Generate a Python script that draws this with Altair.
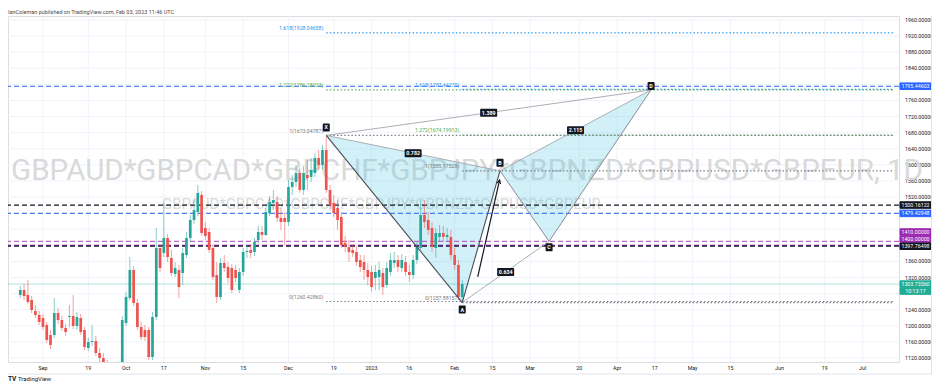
import altair as alt
import numpy as np
import pandas as pd

# ---------------- data ----------------
bar_idx = list(range(-6, 112))  # trading-day index, 0 = 1 Sep 2022, 111 = 3 Feb 2023

open_ = [1276.6, 1289.1, 1276.6, 1264.2, 1236.9, 1226.9, 1219.5, 1202.1, 1177.2, 1177.2,
         1231.9, 1214.5, 1194.6, 1222.0, 1224.5, 1199.6, 1219.5, 1189.7, 1144.9, 1159.8,
         1162.3, 1132.5, 1120.0, 1110.1, 1080.0, 1092.0, 1098.0, 1105.1, 1207.0, 1269.2,
         1338.7, 1256.7, 1197.1, 1189.7, 1189.7, 1122.5, 1222.0, 1393.4, 1381.0, 1418.3,
         1368.6, 1328.8, 1338.7, 1331.3, 1376.0, 1418.3, 1463.0, 1482.9, 1525.2, 1443.1,
         1433.2, 1393.4, 1326.3, 1271.7, 1356.1, 1346.2, 1343.7, 1338.7, 1289.1, 1333.8,
         1383.5, 1388.5, 1383.5, 1413.3, 1433.2, 1425.7, 1480.4, 1505.2, 1507.7, 1468.0,
         1468.0, 1458.0, 1545.0, 1557.4, 1579.8, 1537.6, 1574.8, 1569.9, 1579.8, 1617.1,
         1599.7, 1637.0, 1537.6, 1505.2, 1492.8, 1470.5, 1405.9, 1395.9, 1388.5, 1383.5,
         1363.6, 1358.6, 1338.7, 1333.8, 1318.9, 1321.4, 1331.3, 1301.5, 1333.8, 1356.1,
         1363.6, 1343.7, 1358.6, 1333.8, 1326.3, 1363.6, 1393.4, 1475.4, 1463.0, 1443.1,
         1393.4, 1420.8, 1430.7, 1420.8, 1420.8, 1376.0, 1351.2, 1271.7]
high_ = [1299.0, 1304.0, 1313.9, 1274.1, 1251.8, 1236.9, 1229.4, 1209.5, 1189.7, 1269.2,
         1244.3, 1224.5, 1204.6, 1251.8, 1276.6, 1234.4, 1229.4, 1197.1, 1169.8, 1202.1,
         1174.7, 1144.9, 1132.5, 1115.0, 1100.0, 1108.0, 1112.0, 1224.5, 1284.1, 1371.0,
         1348.7, 1266.7, 1209.5, 1202.1, 1197.1, 1234.4, 1443.1, 1403.4, 1505.2, 1428.2,
         1388.5, 1358.6, 1351.2, 1393.4, 1433.2, 1475.4, 1512.7, 1550.0, 1535.0, 1458.0,
         1443.1, 1403.4, 1358.6, 1368.6, 1376.0, 1358.6, 1353.6, 1351.2, 1343.7, 1393.4,
         1400.9, 1403.4, 1418.3, 1448.1, 1448.1, 1492.8, 1522.6, 1537.6, 1522.6, 1492.8,
         1482.9, 1562.4, 1574.8, 1599.7, 1592.3, 1597.2, 1612.1, 1617.1, 1629.5, 1637.0,
         1649.4, 1673.05, 1550.0, 1525.2, 1512.7, 1482.9, 1423.3, 1413.3, 1403.4, 1398.4,
         1376.0, 1376.0, 1356.1, 1348.7, 1351.2, 1358.6, 1343.7, 1358.6, 1381.0, 1383.5,
         1376.0, 1378.5, 1373.5, 1351.2, 1376.0, 1408.3, 1512.7, 1512.7, 1482.9, 1458.0,
         1443.1, 1450.6, 1448.1, 1443.1, 1438.2, 1393.4, 1363.6, 1313.9]
low_ = [1269.2, 1264.2, 1254.3, 1231.9, 1219.5, 1202.1, 1189.7, 1157.3, 1142.4, 1169.8,
        1204.6, 1187.2, 1174.7, 1197.1, 1192.1, 1189.7, 1177.2, 1139.9, 1137.4, 1149.9,
        1125.0, 1110.1, 1100.2, 1050.0, 1068.0, 1082.0, 1090.0, 1095.2, 1199.6, 1264.2,
        1249.3, 1189.7, 1164.8, 1162.3, 1115.1, 1115.1, 1214.5, 1333.8, 1371.0, 1358.6,
        1323.8, 1321.4, 1269.2, 1301.5, 1368.6, 1408.3, 1453.1, 1472.9, 1423.3, 1413.3,
        1381.0, 1313.9, 1256.7, 1264.2, 1333.8, 1306.5, 1281.6, 1308.9, 1281.6, 1323.8,
        1368.6, 1368.6, 1373.5, 1403.4, 1413.3, 1423.3, 1472.9, 1487.9, 1458.0, 1438.2,
        1400.9, 1448.1, 1525.2, 1545.0, 1530.1, 1525.2, 1537.6, 1557.4, 1569.9, 1587.3,
        1587.3, 1530.1, 1487.9, 1470.5, 1438.2, 1393.4, 1383.5, 1358.6, 1371.0, 1348.7,
        1333.8, 1313.9, 1301.5, 1284.1, 1289.1, 1289.1, 1276.6, 1294.0, 1323.8, 1343.7,
        1333.8, 1333.8, 1323.8, 1308.9, 1316.4, 1353.6, 1388.5, 1443.1, 1425.7, 1383.5,
        1368.6, 1408.3, 1408.3, 1408.3, 1363.6, 1338.7, 1264.2, 1257.88]
close_ = [1289.1, 1274.1, 1259.2, 1239.4, 1226.9, 1209.5, 1197.1, 1164.8, 1152.4, 1231.9,
          1214.5, 1194.6, 1184.7, 1224.5, 1199.6, 1222.0, 1184.7, 1147.4, 1159.8, 1162.3,
          1132.5, 1120.0, 1110.1, 1080.0, 1092.0, 1098.0, 1105.1, 1214.5, 1271.7, 1338.7,
          1256.7, 1197.1, 1172.3, 1172.3, 1122.5, 1222.0, 1393.4, 1343.7, 1418.3, 1371.0,
          1331.3, 1343.7, 1296.5, 1381.0, 1418.3, 1463.0, 1487.9, 1530.1, 1430.7, 1423.3,
          1388.5, 1321.4, 1271.7, 1356.1, 1343.7, 1318.9, 1289.1, 1318.9, 1333.8, 1383.5,
          1386.0, 1381.0, 1408.3, 1433.2, 1425.7, 1482.9, 1507.7, 1512.7, 1468.0, 1458.0,
          1458.0, 1545.0, 1557.4, 1579.8, 1537.6, 1579.8, 1567.4, 1587.3, 1617.1, 1599.7,
          1637.0, 1537.6, 1500.3, 1480.4, 1463.0, 1400.9, 1395.9, 1383.5, 1381.0, 1358.6,
          1346.2, 1338.7, 1321.4, 1296.5, 1333.8, 1338.7, 1296.5, 1343.7, 1363.6, 1363.6,
          1346.2, 1363.6, 1333.8, 1326.3, 1363.6, 1395.9, 1475.4, 1458.0, 1438.2, 1395.9,
          1430.7, 1430.7, 1420.8, 1425.7, 1376.0, 1351.2, 1271.7, 1303.74]

xtick_idx = [0, 12, 22, 32, 43, 53, 65, 77, 87, 97, 109, 119, 129, 142, 152, 162, 172, 182, 195, 207, 217]
xtick_lbl = ["Sep", "19", "Oct", "17", "Nov", "15", "Dec", "19", "2023", "16", "Feb",
             "15", "Mar", "20", "Apr", "17", "May", "15", "Jun", "19", "Jul"]
ytick_vals = [1120, 1160, 1200, 1240, 1320, 1360, 1520, 1560, 1600, 1640, 1680, 1720,
              1760, 1840, 1880, 1920, 1960]
grid_prices = [1120, 1160, 1200, 1240, 1280, 1320, 1360, 1400, 1440, 1480, 1520, 1560,
               1600, 1640, 1680, 1720, 1760, 1800, 1840, 1880, 1920, 1960]

level_price = [1795.44603, 1500.16122, 1479.42948, 1410.0, 1400.0, 1397.76498]
level_text = ["1795.44603", "1500.16122", "1479.42948", "1410.00000", "1400.00000", "1397.76498"]
level_kind = ["blue", "black", "blue2", "purple", "purple2", "black"]
last_price = 1303.7356
last_text = "1303.73560"
countdown = "10:13:17"

pt_name = ["X", "A", "B", "C", "D"]
pt_idx = [75, 111, 121, 134, 161]
pt_price = [1673.04787, 1257.88157, 1585.17528, 1410.0, 1786.28]

ratio_text = ["0.782", "0.634", "2.115", "1.389"]
ratio_from = ["X", "A", "B", "X"]
ratio_to = ["B", "C", "D", "D"]

fib_text = ["1.618(1928.04658)", "1.272(1786.28033)", "1(1673.04787)", "0(1260.42860)",
            "1.618(1787.44275)", "1.272(1674.19913)", "1(1585.17528)", "0(1257.88157)"]
fib_price = [1928.04658, 1786.28033, 1673.04787, 1260.42860,
             1787.44275, 1674.19913, 1585.17528, 1257.88157]
fib_from = ["X", "X", "X", "X", "A", "A", "A", "A"]
fib_kind = ["1.618", "1.272", "1", "0", "1.618", "1.272", "1", "0"]

arrow_idx = [115.1, 120.9]
arrow_price = [1321.4, 1562.4]

header = "IanColeman published on TradingView.com, Feb 03, 2023 11:46 UTC"
wm_big = "GBPAUD*GBPCAD*GBPCHF*GBPJPY*GBPNZD*GBPUSD*GBPEUR, 1D"
wm_small = "GBPAUD*GBPCAD*GBPCHF*GBPJPY*GBPNZD*GBPUSD*GBPEUR"

# ---------------- layout / style ----------------
W, H = 891, 346
X_DOM = [-7.932, 225.314]
Y_DOM = [1110.1, 1969.9]
FONT = "Roboto"
UP, DN = "#26a69a", "#ef5350"
xs = alt.Scale(domain=X_DOM, nice=False, zero=False)
ys = alt.Scale(domain=Y_DOM, nice=False, zero=False)


def X(f):
    return alt.X(f, scale=xs, axis=None)


def Y(f):
    return alt.Y(f, scale=ys, axis=None)


layers = []

# grid
layers.append(alt.Chart(pd.DataFrame({"p": grid_prices})).mark_rule(
    color="#f0f3fa", strokeWidth=1).encode(y=Y("p:Q")))
layers.append(alt.Chart(pd.DataFrame({"i": xtick_idx})).mark_rule(
    color="#f0f3fa", strokeWidth=1).encode(x=X("i:Q")))

# tick labels (price on the right, dates below)
layers.append(alt.Chart(pd.DataFrame({"v": ytick_vals})).mark_text(
    fontSize=5.3, font=FONT, color="#131722", align="left", baseline="middle").encode(
    x=alt.value(W + 6), y=Y("v:Q"), text=alt.Text("v:Q", format=".5f")))
layers.append(alt.Chart(pd.DataFrame({"i": xtick_idx, "t": xtick_lbl})).mark_text(
    fontSize=5.3, font=FONT, color="#131722", align="center", baseline="middle").encode(
    x=X("i:Q"), y=alt.value(H + 6), text="t:N"))

# watermarks
layers.append(alt.Chart(pd.DataFrame({"t": [wm_big]})).mark_text(
    fontSize=29.5, font=FONT, color="#d9d9d9", align="center", baseline="alphabetic").encode(
    x=alt.value(459), y=alt.value(164), text="t:N"))
layers.append(alt.Chart(pd.DataFrame({"t": [wm_small]})).mark_text(
    fontSize=15, font=FONT, color="#d9d9d9", align="left", baseline="alphabetic").encode(
    x=alt.value(154), y=alt.value(193), text="t:N"))

# pattern fill (two triangles XAB, BCD)
P = {n: (i, p) for n, i, p in zip(pt_name, pt_idx, pt_price)}
rows = []
for a, b, c in [("X", "A", "B"), ("B", "C", "D")]:
    (ia, pa), (ib, pb), (ic, pc) = P[a], P[b], P[c]
    mid_hi = float(np.interp(ib, [ia, ic], [pa, pc]))
    lo_b, hi_b = min(pb, mid_hi), max(pb, mid_hi)
    rows += [dict(tri=a + b + c, i=ia, lo=pa, hi=pa), dict(tri=a + b + c, i=ib, lo=lo_b, hi=hi_b),
             dict(tri=a + b + c, i=ic, lo=pc, hi=pc)]
tdf = pd.DataFrame(rows)
layers.append(alt.Chart(tdf).mark_area(color="#57c7e3", opacity=0.27).encode(
    x=X("i:Q"), y=Y("lo:Q"), y2="hi:Q", detail="tri:N"))

# horizontal levels
LSTYLE = {"blue": ("#2962ff", [5, 3], 1.1), "black": ("#131722", [5, 3], 1.2),
          "blue2": ("#4f7cf7", [5, 3], 1.1), "purple": ("#ba68c8", [5, 3], 1.2),
          "purple2": ("#7b1fa2", [5, 3], 1.2)}
for p, k in zip(level_price, level_kind):
    col, dash, sw = LSTYLE[k]
    layers.append(alt.Chart(pd.DataFrame({"p": [p]})).mark_rule(
        color=col, strokeDash=dash, strokeWidth=sw).encode(y=Y("p:Q")))
layers.append(alt.Chart(pd.DataFrame({"p": [last_price]})).mark_rule(
    color="#22ab94", opacity=0.35, strokeWidth=1).encode(y=Y("p:Q")))

# fib dotted lines + labels (one layer per colour)
FCOL = {"1.618": "#2196f3", "1.272": "#4caf50", "1": "#787b86", "0": "#787b86"}
fdf = pd.DataFrame(dict(t=fib_text, p=fib_price, k=fib_kind,
                        x1=[P[f][0] for f in fib_from], x2=[X_DOM[1]] * len(fib_text)))
for k, col in FCOL.items():
    sub = fdf[fdf["k"] == k]
    layers.append(alt.Chart(sub).mark_rule(strokeDash=[1.4, 2.2], strokeWidth=1.2, color=col).encode(
        x=X("x1:Q"), x2="x2:Q", y=Y("p:Q")))
    layers.append(alt.Chart(sub).mark_text(align="right", baseline="alphabetic", dx=-3, dy=-2.5,
                                           fontSize=5.2, font=FONT, color=col).encode(
        x=X("x1:Q"), y=Y("p:Q"), text="t:N"))

# candles (separate up / down layers)
cdf = pd.DataFrame(dict(i=bar_idx, o=open_, h=high_, l=low_, c=close_))
for is_up, col in [(True, UP), (False, DN)]:
    sub = cdf[(cdf["c"] >= cdf["o"]) == is_up]
    layers.append(alt.Chart(sub).mark_rule(strokeWidth=1, opacity=0.55, color=col, clip=True).encode(
        x=X("i:Q"), y=Y("l:Q"), y2="h:Q"))
    layers.append(alt.Chart(sub).mark_bar(size=2.7, color=col, clip=True).encode(
        x=X("i:Q"), y=Y("o:Q"), y2="c:Q"))


def seg_df(pairs):
    return pd.DataFrame([dict(i1=P[a][0], p1=P[a][1], i2=P[b][0], p2=P[b][1]) for a, b in pairs])


# connector lines
layers.append(alt.Chart(seg_df(list(zip(ratio_from, ratio_to)))).mark_rule(
    color="#a3a6ad", strokeWidth=0.9).encode(x=X("i1:Q"), x2="i2:Q", y=Y("p1:Q"), y2="p2:Q"))
# main pattern path
layers.append(alt.Chart(seg_df([("X", "A"), ("A", "B")])).mark_rule(
    color="#4a4d55", strokeWidth=1.1).encode(x=X("i1:Q"), x2="i2:Q", y=Y("p1:Q"), y2="p2:Q"))
layers.append(alt.Chart(seg_df([("B", "C"), ("C", "D")])).mark_rule(
    color="#8a8d96", strokeWidth=1).encode(x=X("i1:Q"), x2="i2:Q", y=Y("p1:Q"), y2="p2:Q"))

# arrow
adf = pd.DataFrame(dict(i1=[arrow_idx[0]], p1=[arrow_price[0]], i2=[arrow_idx[1]], p2=[arrow_price[1]]))
layers.append(alt.Chart(adf).mark_rule(color="#131722", strokeWidth=1.2).encode(
    x=X("i1:Q"), x2="i2:Q", y=Y("p1:Q"), y2="p2:Q"))
layers.append(alt.Chart(adf).mark_point(shape="M-0.6,1.2L0,0L0.6,1.2", size=36, filled=False,
                                        color="#131722", strokeWidth=1.2, angle=13, opacity=1).encode(
    x=X("i2:Q"), y=Y("p2:Q")))

# ratio boxes at segment midpoints
rdf = pd.DataFrame(dict(t=ratio_text,
                        i=[(P[a][0] + P[b][0]) / 2 for a, b in zip(ratio_from, ratio_to)],
                        p=[(P[a][1] + P[b][1]) / 2 for a, b in zip(ratio_from, ratio_to)]))
layers.append(alt.Chart(rdf).mark_point(shape="M-1,-0.42H1V0.42H-1Z", size=240, filled=True,
                                        color="#131722", stroke="#131722", strokeWidth=1.5,
                                        strokeJoin="round", opacity=1).encode(x=X("i:Q"), y=Y("p:Q")))
layers.append(alt.Chart(rdf).mark_text(color="white", fontSize=5.3, font=FONT, fontWeight="bold").encode(
    x=X("i:Q"), y=Y("p:Q"), text="t:N"))

# point labels
PT_OFF = {"X": -8, "A": 7, "B": -8, "C": 6, "D": -4}
for n in pt_name:
    d = pd.DataFrame(dict(t=[n], i=[P[n][0]], p=[P[n][1]]))
    layers.append(alt.Chart(d).mark_point(shape="M-0.85,-1H0.85V1H-0.85Z", size=42, filled=True,
                                          color="#131722", stroke="#131722", strokeWidth=1.5,
                                          strokeJoin="round", opacity=1, yOffset=PT_OFF[n]).encode(
        x=X("i:Q"), y=Y("p:Q")))
    layers.append(alt.Chart(d).mark_text(color="white", fontSize=5.3, font=FONT, fontWeight="bold",
                                         yOffset=PT_OFF[n]).encode(x=X("i:Q"), y=Y("p:Q"), text="t:N"))

# price-axis boxes
BOXCOL = {"blue": "#2962ff", "black": "#131722", "blue2": "#2962ff", "purple": "#9c27b0",
          "purple2": "#9c27b0", "teal": "#22ab94"}
BOX_OFF = {"1410.00000": -9.3, "1400.00000": -6.3}
box_items = [(p, t, k, BOX_OFF.get(t, 0)) for p, t, k in zip(level_price, level_text, level_kind)]
box_items += [(last_price, last_text, "teal", 0), (last_price, countdown, "teal", 7)]
for p, t, k, off in box_items:
    d = pd.DataFrame(dict(p=[p], t=[t]))
    layers.append(alt.Chart(d).mark_point(shape="M-1,-0.21H1V0.21H-1Z", size=961, filled=True,
                                          color=BOXCOL[k], stroke=BOXCOL[k], strokeWidth=1,
                                          strokeJoin="round", opacity=1, yOffset=off).encode(
        x=alt.value(W + 16.5), y=Y("p:Q")))
    layers.append(alt.Chart(d).mark_text(color="white", fontSize=5.3, font=FONT, yOffset=off).encode(
        x=alt.value(W + 16.5), y=Y("p:Q"), text="t:N"))

# header / footer / frame
layers.append(alt.Chart(pd.DataFrame({"t": [header]})).mark_text(
    fontSize=5.5, font=FONT, color="#4a4a4a", align="left").encode(
    x=alt.value(0), y=alt.value(-4.5), text="t:N"))
layers.append(alt.Chart(pd.DataFrame({"t": ["TV"]})).mark_text(
    fontSize=6.5, font=FONT, fontWeight="bold", color="#131722", align="left").encode(
    x=alt.value(0), y=alt.value(H + 17), text="t:N"))
layers.append(alt.Chart(pd.DataFrame({"t": ["TradingView"]})).mark_text(
    fontSize=6, font=FONT, color="#131722", align="left").encode(
    x=alt.value(10), y=alt.value(H + 17), text="t:N"))
layers.append(alt.Chart(pd.DataFrame({"t": [0]})).mark_rule(color="#e0e3eb", strokeWidth=1).encode(
    x=alt.value(0), x2=alt.value(W + 33), y=alt.value(H + 12)))
layers.append(alt.Chart(pd.DataFrame({"t": [0]})).mark_rule(color="#e0e3eb", strokeWidth=1).encode(
    x=alt.value(W + 32.5), y=alt.value(0), y2=alt.value(H + 12)))

chart = alt.layer(*layers).properties(
    width=W, height=H,
    autosize=alt.AutoSizeParams(type="none"),
    padding={"left": 0, "top": 8, "right": 33, "bottom": 20},
    background="white",
).configure_view(stroke="#e0e3eb", strokeWidth=1).configure(font=FONT)

chart.save("out.html", embed_options={"renderer": "svg", "actions": False})
